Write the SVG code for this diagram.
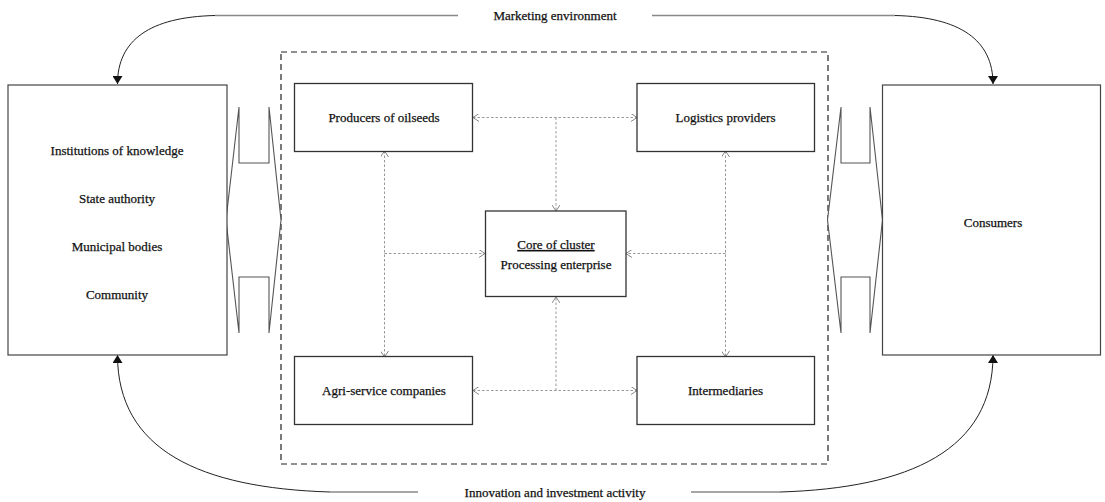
<svg xmlns="http://www.w3.org/2000/svg" width="1105" height="502" viewBox="0 0 1105 502">
<defs>
<style>
.box{fill:#fff;stroke:#333;stroke-width:1.3}
.big{fill:#fff;stroke:#444;stroke-width:1.2}
.t{font-family:"Liberation Serif",serif;font-size:13px;fill:#111;stroke:#111;stroke-width:0.25;text-anchor:middle}
.dot{fill:none;stroke:#999;stroke-width:1;stroke-dasharray:2.5,2}
.curve{fill:none;stroke:#222;stroke-width:1}
.hline{fill:none;stroke:#888;stroke-width:1.4}
.shape{fill:#fff;stroke:#555;stroke-width:1.1}
</style>
<marker id="ch" viewBox="0 0 6 8" refX="6" refY="4" markerWidth="6" markerHeight="8" orient="auto-start-reverse" markerUnits="userSpaceOnUse">
<path d="M0,0 L6,4 L0,8" fill="none" stroke="#888" stroke-width="1"/>
</marker>
<marker id="tri" viewBox="0 0 8 10" refX="8" refY="5" markerWidth="8" markerHeight="10" orient="auto" markerUnits="userSpaceOnUse">
<path d="M0,0 L8,5 L0,10 Z" fill="#111"/>
</marker>
</defs>
<rect x="0" y="0" width="1105" height="502" fill="#fff"/>

<g id="cluster-frame">
<rect x="281" y="52" width="547" height="412" fill="none" stroke="#222" stroke-width="1.2" stroke-dasharray="6,4"/>
</g>

<g id="connectors">
<path class="hline" d="M458,15.5 L215,15.5"/>
<path class="curve" d="M215,15.5 C150,17 117.5,40 117.5,84" marker-end="url(#tri)"/>
<path class="hline" d="M652,15.5 L895,15.5"/>
<path class="curve" d="M895,15.5 C960,17 993,40 993,84" marker-end="url(#tri)"/>
<path class="hline" d="M418,492 L330,492"/>
<path class="curve" d="M330,492 C200,488 117.5,450 117.5,355" marker-end="url(#tri)"/>
<path class="hline" d="M691,492 L780,492"/>
<path class="curve" d="M780,492 C910,488 993,450 993,355" marker-end="url(#tri)"/>
<line class="dot" x1="473" y1="117.5" x2="637" y2="117.5" marker-start="url(#ch)" marker-end="url(#ch)"/>
<line class="dot" x1="556" y1="117.5" x2="556" y2="211" marker-end="url(#ch)"/>
<line class="dot" x1="384.5" y1="151" x2="384.5" y2="357" marker-start="url(#ch)" marker-end="url(#ch)"/>
<line class="dot" x1="384.5" y1="253.5" x2="485" y2="253.5" marker-end="url(#ch)"/>
<line class="dot" x1="725.5" y1="151" x2="725.5" y2="357" marker-start="url(#ch)" marker-end="url(#ch)"/>
<line class="dot" x1="725.5" y1="253.5" x2="626" y2="253.5" marker-end="url(#ch)"/>
<line class="dot" x1="473" y1="390.5" x2="637" y2="390.5" marker-start="url(#ch)" marker-end="url(#ch)"/>
<line class="dot" x1="556" y1="390.5" x2="556" y2="297" marker-end="url(#ch)"/>
</g>

<g id="left-flow">
<polygon class="shape" points="239,107 239,163 269,163 269,107 281,220 269,333 269,277 239,277 239,333 226,220"/>
</g>
<g id="right-flow">
<polygon class="shape" points="841,107 841,163 870,163 870,107 882.5,220 870,333 870,277 841,277 841,333 827.5,220"/>
</g>

<g id="marketing-environment">
<text class="t" x="555" y="20">Marketing environment</text>
</g>
<g id="innovation">
<text class="t" x="555" y="497">Innovation and investment activity</text>
</g>

<g id="external-actors">
<rect class="big" x="8" y="85" width="219" height="270"/>
<text class="t" x="117" y="155">Institutions of knowledge</text>
<text class="t" x="117" y="203">State authority</text>
<text class="t" x="117" y="251">Municipal bodies</text>
<text class="t" x="117" y="299">Community</text>
</g>

<g id="consumers">
<rect class="big" x="882.5" y="85" width="218" height="270"/>
<text class="t" x="993" y="227">Consumers</text>
</g>

<g id="producers">
<rect class="box" x="294.5" y="83.5" width="178" height="68"/>
<text class="t" x="384" y="122">Producers of oilseeds</text>
</g>
<g id="logistics">
<rect class="box" x="637" y="83.5" width="177.5" height="68"/>
<text class="t" x="725.5" y="122">Logistics providers</text>
</g>
<g id="core">
<rect class="box" x="485.5" y="211" width="140.5" height="85.5"/>
<text class="t" x="556" y="249" text-decoration="underline">Core of cluster</text>
<text class="t" x="556" y="269">Processing enterprise</text>
</g>
<g id="agri-service">
<rect class="box" x="294.5" y="356.5" width="178" height="68"/>
<text class="t" x="384" y="395">Agri-service companies</text>
</g>
<g id="intermediaries">
<rect class="box" x="637" y="356.5" width="177.5" height="68"/>
<text class="t" x="725.5" y="395">Intermediaries</text>
</g>
</svg>
